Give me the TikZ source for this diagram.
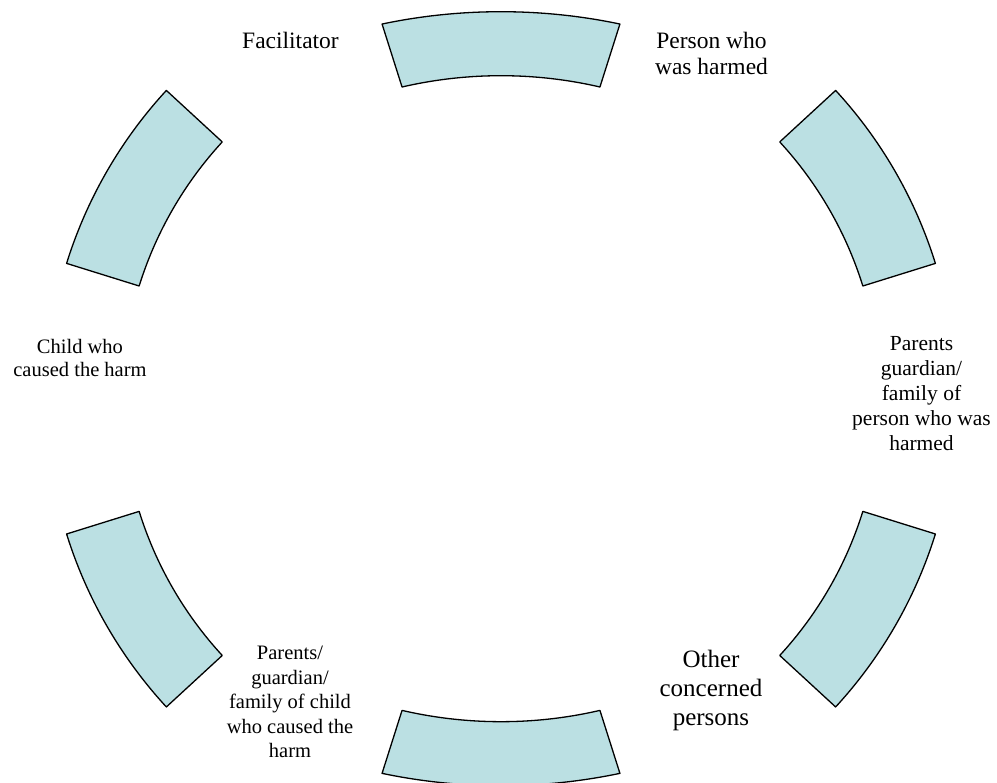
\documentclass[tikz,border=0pt]{standalone}
\usepackage{fontspec}
\setmainfont{Liberation Serif}
\definecolor{segfill}{RGB}{187,224,227}
\begin{document}
\begin{tikzpicture}[x=1pt,y=1pt,
  seg/.style={fill=segfill,draw=black,line width=1.3pt,line join=round},
  lbl/.style={align=center,inner sep=0pt,text=black}]
\useasboundingbox (-501,-384.3) rectangle (496,398.7);
% top segment
\path[seg] (75.5:475pt and 387pt) arc[start angle=75.5,end angle=104.5,x radius=475pt,y radius=387pt]
  -- (105.2:377.4pt and 323pt) arc[start angle=105.2,end angle=74.8,x radius=377.4pt,y radius=323pt] -- cycle;
% bottom segment
\path[seg] (-75.5:475pt and 387pt) arc[start angle=-75.5,end angle=-104.5,x radius=475pt,y radius=387pt]
  -- (-105.2:377.4pt and 323pt) arc[start angle=-105.2,end angle=-74.8,x radius=377.4pt,y radius=323pt] -- cycle;
% side segments
\foreach \a/\b in {137.35/162.7, 197.3/222.65, 17.3/42.65, -42.65/-17.3}{
  \path[seg] (\a:455pt) arc[start angle=\a,end angle=\b,radius=455pt]
    -- (\b:379pt) arc[start angle=\b,end angle=\a,radius=379pt] -- cycle;
}
% labels
\node[lbl,font=\fontsize{23.5}{26.7}\selectfont] (fac) at (-210.5,358.4) {Facilitator};
\node[lbl,font=\fontsize{23.5}{26.7}\selectfont] (pwh) at (210.5,345.3) {Person who\\was harmed};
\node[lbl,font=\fontsize{20.5}{23.4}\selectfont] (cch) at (-421,41) {Child who\\caused the harm};
\node[lbl,font=\fontsize{21.5}{25}\selectfont] (pgp) at (420.5,5) {Parents\\guardian/\\family of\\person who was\\harmed};
\node[lbl,font=\fontsize{20.5}{24.6}\selectfont] (pgc) at (-211,-303.3) {Parents/\\guardian/\\family of child\\who caused the\\harm};
\node[lbl,font=\fontsize{25}{29}\selectfont] (ocp) at (210,-291.3) {Other\\concerned\\persons};
\end{tikzpicture}
\end{document}
